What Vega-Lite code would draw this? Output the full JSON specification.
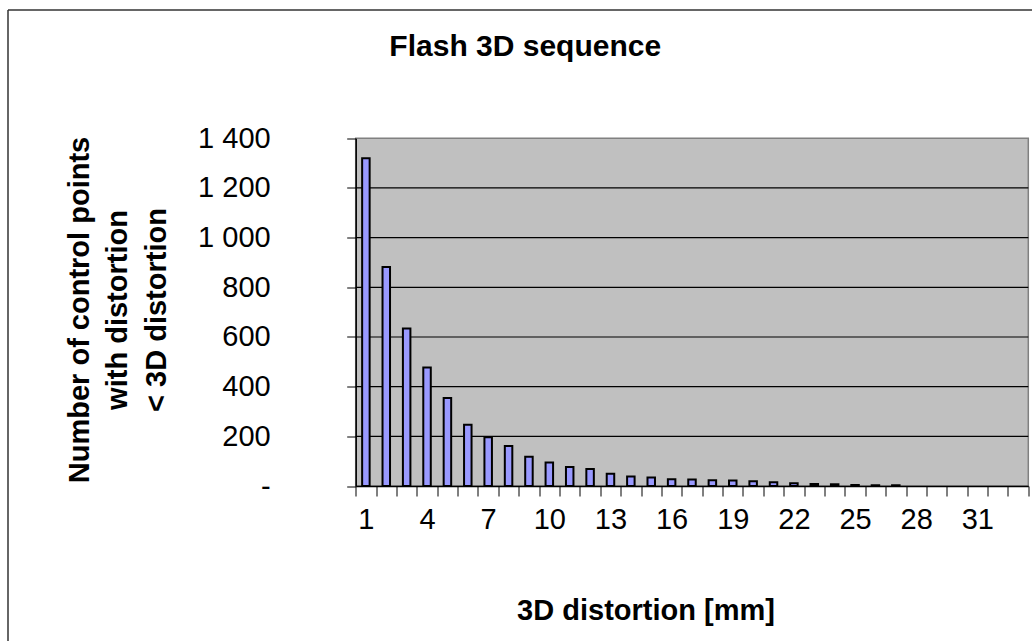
{
  "$schema": "https://vega.github.io/schema/vega-lite/v6.json",
  "width": 1024.5,
  "height": 631.5,
  "autosize": {"type": "none"},
  "padding": {"left": 7.5, "top": 9.5, "right": 0, "bottom": 0},
  "background": "white",
  "config": {
    "view": {"stroke": null, "fill": "white"},
    "font": "Liberation Sans"
  },
  "title": {
    "text": "Flash 3D sequence",
    "font": "Liberation Sans",
    "fontSize": 30,
    "fontWeight": "bold",
    "color": "black",
    "anchor": "middle",
    "frame": "group",
    "baseline": "alphabetic",
    "offset": 0,
    "dx": 5.5,
    "dy": 76
  },
  "datasets": {
    "counts": [
      {"mm": 1, "count": 1320},
      {"mm": 2, "count": 882},
      {"mm": 3, "count": 634},
      {"mm": 4, "count": 477},
      {"mm": 5, "count": 354},
      {"mm": 6, "count": 247},
      {"mm": 7, "count": 196},
      {"mm": 8, "count": 161},
      {"mm": 9, "count": 118},
      {"mm": 10, "count": 95},
      {"mm": 11, "count": 76},
      {"mm": 12, "count": 68},
      {"mm": 13, "count": 49},
      {"mm": 14, "count": 38},
      {"mm": 15, "count": 34},
      {"mm": 16, "count": 27},
      {"mm": 17, "count": 26},
      {"mm": 18, "count": 23},
      {"mm": 19, "count": 22},
      {"mm": 20, "count": 19},
      {"mm": 21, "count": 15},
      {"mm": 22, "count": 11},
      {"mm": 23, "count": 8},
      {"mm": 24, "count": 7},
      {"mm": 25, "count": 4},
      {"mm": 26, "count": 3},
      {"mm": 27, "count": 3},
      {"mm": 28, "count": 0},
      {"mm": 29, "count": 0},
      {"mm": 30, "count": 0},
      {"mm": 31, "count": 0},
      {"mm": 32, "count": 0},
      {"mm": 33, "count": 0}
    ],
    "plotArea": [{"xmin": 0.5, "xmax": 33.5, "ymin": 0, "ymax": 1400}],
    "gridLevels": [
      {"level": 200}, {"level": 400}, {"level": 600},
      {"level": 800}, {"level": 1000}, {"level": 1200}
    ],
    "chartArea": [{"left": 0, "bottom": 0}]
  },
  "layer": [
    {
      "data": {"name": "plotArea"},
      "mark": {"type": "rect", "fill": "#C0C0C0", "stroke": "#808080", "strokeWidth": 1.5},
      "encoding": {
        "x": {
          "field": "xmin", "type": "quantitative",
          "scale": {"domain": [0.5, 33.5], "range": [348.2, 1020.8], "padding": 0, "nice": false, "zero": false},
          "axis": null
        },
        "x2": {"field": "xmax"},
        "y": {
          "field": "ymin", "type": "quantitative",
          "scale": {"domain": [0, 1400], "range": [476.5, 128.8], "padding": 0, "nice": false, "zero": false},
          "axis": null
        },
        "y2": {"field": "ymax"}
      }
    },
    {
      "data": {"name": "gridLevels"},
      "mark": {"type": "rule", "color": "black", "strokeWidth": 1.2},
      "encoding": {
        "y": {
          "field": "level", "type": "quantitative",
          "scale": {"domain": [0, 1400], "range": [476.5, 128.8], "padding": 0, "nice": false, "zero": false},
          "axis": null
        },
        "x": {
          "datum": 0.5, "type": "quantitative",
          "scale": {"domain": [0.5, 33.5], "range": [348.2, 1020.8], "padding": 0, "nice": false, "zero": false},
          "axis": null
        },
        "x2": {"datum": 33.5}
      }
    },
    {
      "data": {"name": "counts"},
      "transform": [{"filter": "datum.count > 0"}],
      "mark": {"type": "bar", "width": 7.5, "fill": "#9999FF", "stroke": "black", "strokeWidth": 2},
      "encoding": {
        "x": {
          "field": "mm", "type": "quantitative",
          "scale": {"domain": [0.5, 33.5], "range": [348.2, 1020.8], "padding": 0, "nice": false, "zero": false},
          "axis": {
            "orient": "bottom",
            "offset": -155,
            "values": [0.5, 1.5, 2.5, 3.5, 4.5, 5.5, 6.5, 7.5, 8.5, 9.5, 10.5, 11.5, 12.5, 13.5, 14.5, 15.5, 16.5, 17.5, 18.5, 19.5, 20.5, 21.5, 22.5, 23.5, 24.5, 25.5, 26.5, 27.5, 28.5, 29.5, 30.5, 31.5, 32.5, 33.5],
            "grid": false,
            "domain": true,
            "domainColor": "black",
            "domainWidth": 1.5,
            "ticks": true,
            "tickColor": "black",
            "tickWidth": 1,
            "tickSize": 10,
            "labelExpr": "datum.value < 32 && (datum.value + 0.5) % 3 == 1 ? '' + (datum.value + 0.5) : ''",
            "labelOffset": 10.19,
            "labelPadding": 9,
            "labelFont": "Liberation Sans",
            "labelFontSize": 29,
            "labelColor": "black",
            "labelOverlap": false,
            "labelBound": false,
            "labelFlush": false,
            "title": "3D distortion [mm]",
            "titleFont": "Liberation Sans",
            "titleFontSize": 29,
            "titleFontWeight": "bold",
            "titleColor": "black",
            "titleX": 638,
            "titleY": 124,
            "titleAlign": "center",
            "titleBaseline": "middle",
            "zindex": 2
          }
        },
        "y": {
          "field": "count", "type": "quantitative",
          "scale": {"domain": [0, 1400], "range": [476.5, 128.8], "padding": 0, "nice": false, "zero": false},
          "axis": {
            "orient": "left",
            "offset": -348.2,
            "values": [0, 200, 400, 600, 800, 1000, 1200, 1400],
            "grid": false,
            "domain": true,
            "domainColor": "black",
            "domainWidth": 1.5,
            "ticks": true,
            "tickColor": "black",
            "tickWidth": 1,
            "tickSize": 9,
            "labelExpr": "datum.value == 0 ? '-' : replace(format(datum.value, ','), ',', ' ')",
            "labelPadding": 76.5,
            "labelFont": "Liberation Sans",
            "labelFontSize": 29,
            "labelColor": "black",
            "labelOverlap": false,
            "labelBound": false,
            "labelFlush": false,
            "title": ["Number of control points", "with distortion", "< 3D distortion"],
            "titleFont": "Liberation Sans",
            "titleFontSize": 29,
            "titleFontWeight": "bold",
            "titleColor": "black",
            "titleLineHeight": 38.5,
            "titleAngle": 270,
            "titleX": -276.5,
            "titleY": 300,
            "titleAlign": "center",
            "titleBaseline": "middle",
            "zindex": 2
          }
        }
      }
    },
    {
      "data": {"name": "chartArea"},
      "mark": {"type": "point", "opacity": 0},
      "encoding": {
        "x": {
          "field": "left", "type": "quantitative",
          "scale": {"domain": [0, 1], "nice": false},
          "axis": {
            "orient": "top", "offset": 0, "domain": true, "domainColor": "#333333", "domainWidth": 1.5,
            "ticks": false, "labels": false, "grid": false, "title": null, "zindex": 3
          }
        },
        "y": {
          "field": "bottom", "type": "quantitative",
          "scale": {"domain": [0, 1], "nice": false},
          "axis": {
            "orient": "left", "offset": 0, "domain": true, "domainColor": "#333333", "domainWidth": 1.5,
            "ticks": false, "labels": false, "grid": false, "title": null, "zindex": 3
          }
        }
      }
    }
  ],
  "resolve": {
    "scale": {"x": "independent", "y": "independent"},
    "axis": {"x": "independent", "y": "independent"}
  }
}
